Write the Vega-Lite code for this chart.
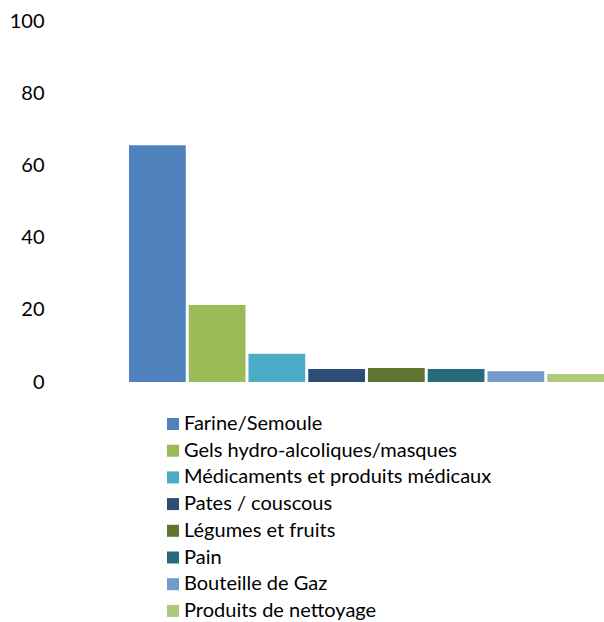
{
  "$schema": "https://vega.github.io/schema/vega-lite/v6.json",
  "autosize": "none",
  "width": 549,
  "height": 361,
  "padding": {"left": 55, "top": 21, "right": 0, "bottom": 240},
  "background": "white",
  "config": {"view": {"stroke": null}, "font": "Lato"},
  "data": {"values": [
    {"cat": "Farine/Semoule", "v": 65.6},
    {"cat": "Gels hydro-alcoliques/masques", "v": 21.3},
    {"cat": "Médicaments et produits médicaux", "v": 7.8},
    {"cat": "Pates / couscous", "v": 3.6},
    {"cat": "Légumes et fruits", "v": 3.9},
    {"cat": "Pain", "v": 3.6},
    {"cat": "Bouteille de Gaz", "v": 3.0},
    {"cat": "Produits de nettoyage", "v": 2.2}
  ]},
  "mark": {"type": "bar"},
  "encoding": {
    "x": {"field": "cat", "type": "nominal", "sort": null,
      "scale": {"paddingInner": 0.05, "paddingOuter": 0.619, "align": 1},
      "axis": null},
    "y": {"field": "v", "type": "quantitative",
      "scale": {"domain": [0, 100]},
      "axis": {"values": [0, 20, 40, 60, 80, 100], "grid": false, "domain": false, "ticks": false,
        "labelPadding": 11, "labelFontSize": 20, "labelColor": "#000000", "title": null}},
    "color": {"field": "cat", "type": "nominal", "sort": null,
      "scale": {"domain": ["Farine/Semoule", "Gels hydro-alcoliques/masques", "Médicaments et produits médicaux", "Pates / couscous", "Légumes et fruits", "Pain", "Bouteille de Gaz", "Produits de nettoyage"],
        "range": ["#4F81BD", "#9BBB59", "#4BACC6", "#2C4D75", "#5F7530", "#276A7C", "#729ACA", "#AFC97A"]},
      "legend": {"orient": "none", "legendX": 108, "legendY": 393, "title": null,
        "symbolType": "square", "symbolSize": 144, "symbolStrokeWidth": 0,
        "labelFontSize": 20, "labelLimit": 0, "labelColor": "#000000", "labelOffset": 1, "rowPadding": 6.7}}
  }
}
